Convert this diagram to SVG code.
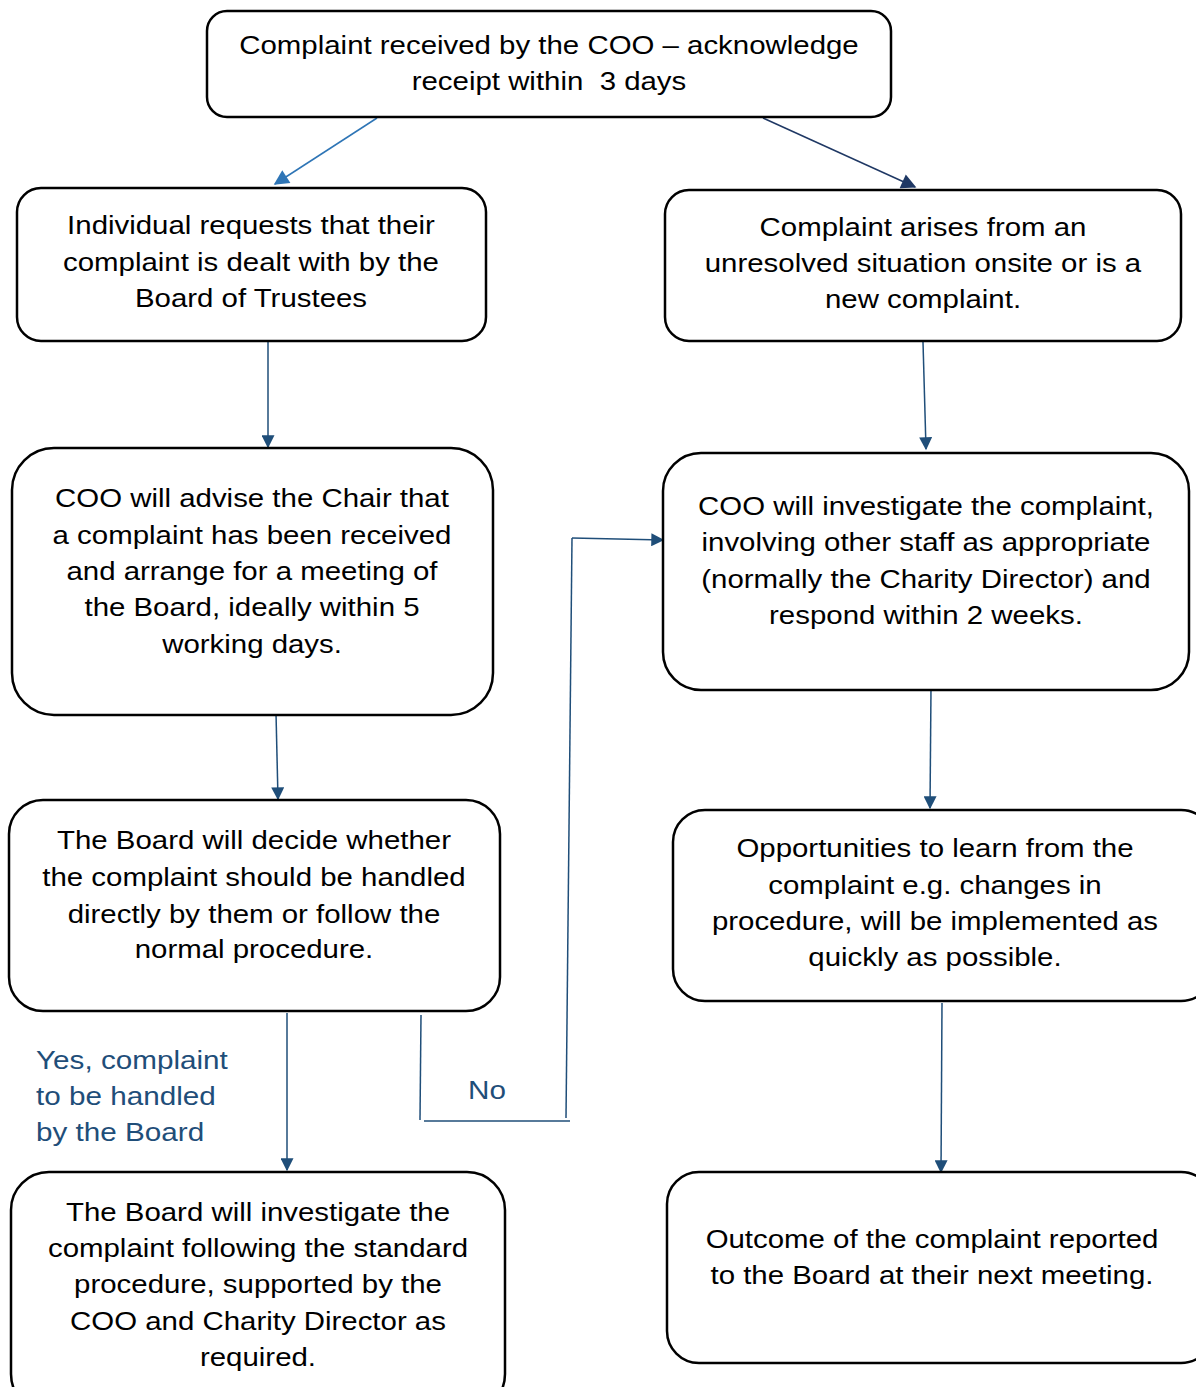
<svg xmlns="http://www.w3.org/2000/svg" width="1196" height="1387" viewBox="0 0 1196 1387">
<style>
.box{fill:#fff;stroke:#000;stroke-width:2.5}
.t{font-family:"Liberation Sans",Arial,sans-serif;font-size:26.5px;fill:#000;text-anchor:middle;transform-box:fill-box;transform-origin:center;transform:scaleX(1.11)}
.lbl{font-family:"Liberation Sans",Arial,sans-serif;font-size:26.5px;fill:#1F4E79;transform-box:fill-box;transform-origin:left center;transform:scaleX(1.12)}
.c{fill:none;stroke:#1F4E79;stroke-width:1.5}
.cl{fill:none;stroke:#2E75B6;stroke-width:1.5}
</style>
<defs>
<marker id="a" viewBox="0 0 10 10" refX="9" refY="5" markerWidth="14" markerHeight="13" markerUnits="userSpaceOnUse" orient="auto"><path d="M0,0 L10,5 L0,10 z" fill="#1F4E79"/></marker>
<marker id="al" viewBox="0 0 10 10" refX="9" refY="5" markerWidth="16" markerHeight="15" markerUnits="userSpaceOnUse" orient="auto"><path d="M0,0 L10,5 L0,10 z" fill="#2E75B6"/></marker>
<marker id="ad" viewBox="0 0 10 10" refX="9" refY="5" markerWidth="16" markerHeight="15" markerUnits="userSpaceOnUse" orient="auto"><path d="M0,0 L10,5 L0,10 z" fill="#1F3864"/></marker>
</defs>
<rect width="1196" height="1387" fill="#fff"/>
<g id="connectors">
<line class="cl" x1="377" y1="118" x2="275" y2="184" marker-end="url(#al)"/>
<line class="c" style="stroke:#1F3864" x1="763" y1="118" x2="915" y2="187" marker-end="url(#ad)"/>
<line class="c" x1="268" y1="342" x2="268" y2="447" marker-end="url(#a)"/>
<line class="c" x1="923" y1="342" x2="926" y2="449" marker-end="url(#a)"/>
<line class="c" x1="276" y1="713" x2="278" y2="799" marker-end="url(#a)"/>
<line class="c" x1="931" y1="688" x2="930" y2="808" marker-end="url(#a)"/>
<line class="c" x1="287" y1="1013" x2="287" y2="1170" marker-end="url(#a)"/>
<line class="c" x1="942" y1="1003" x2="941" y2="1172" marker-end="url(#a)"/>
<line class="c" x1="421" y1="1015" x2="420" y2="1120"/>
<line class="c" x1="424" y1="1121" x2="570" y2="1121"/>
<line class="c" x1="566" y1="1118" x2="572" y2="538"/>
<line class="c" x1="572" y1="538" x2="663" y2="540" marker-end="url(#a)"/>
</g>
<g id="n1"><rect class="box" x="207" y="11" width="684" height="106" rx="20"/>
<text class="t" x="549" y="54">Complaint received by the COO – acknowledge</text>
<text class="t" x="549" y="90" style="white-space:pre">receipt within  3 days</text></g>
<g id="n2"><rect class="box" x="17" y="188" width="469" height="153" rx="24"/>
<text class="t" x="251" y="234">Individual requests that their</text>
<text class="t" x="251" y="271">complaint is dealt with by the</text>
<text class="t" x="251" y="307">Board of Trustees</text></g>
<g id="n3"><rect class="box" x="665" y="190" width="516" height="151" rx="24"/>
<text class="t" x="923" y="236">Complaint arises from an</text>
<text class="t" x="923" y="272">unresolved situation onsite or is a</text>
<text class="t" x="923" y="308">new complaint.</text></g>
<g id="n4"><rect class="box" x="12" y="448" width="481" height="267" rx="42"/>
<text class="t" x="252" y="507">COO will advise the Chair that</text>
<text class="t" x="252" y="544">a complaint has been received</text>
<text class="t" x="252" y="580">and arrange for a meeting of</text>
<text class="t" x="252" y="616">the Board, ideally within 5</text>
<text class="t" x="252" y="653">working days.</text></g>
<g id="n5"><rect class="box" x="663" y="453" width="526" height="237" rx="38"/>
<text class="t" x="926" y="515">COO will investigate the complaint,</text>
<text class="t" x="926" y="551">involving other staff as appropriate</text>
<text class="t" x="926" y="588">(normally the Charity Director) and</text>
<text class="t" x="926" y="624">respond within 2 weeks.</text></g>
<g id="n6"><rect class="box" x="9" y="800" width="491" height="211" rx="34"/>
<text class="t" x="254" y="849">The Board will decide whether</text>
<text class="t" x="254" y="886">the complaint should be handled</text>
<text class="t" x="254" y="923">directly by them or follow the</text>
<text class="t" x="254" y="958">normal procedure.</text></g>
<g id="n7"><rect class="box" x="673" y="810" width="540" height="191" rx="32"/>
<text class="t" x="935" y="857">Opportunities to learn from the</text>
<text class="t" x="935" y="894">complaint e.g. changes in</text>
<text class="t" x="935" y="930">procedure, will be implemented as</text>
<text class="t" x="935" y="966">quickly as possible.</text></g>
<g id="n8"><rect class="box" x="11" y="1172" width="494" height="240" rx="38"/>
<text class="t" x="258" y="1221">The Board will investigate the</text>
<text class="t" x="258" y="1257">complaint following the standard</text>
<text class="t" x="258" y="1293">procedure, supported by the</text>
<text class="t" x="258" y="1330">COO and Charity Director as</text>
<text class="t" x="258" y="1366">required.</text></g>
<g id="n9"><rect class="box" x="667" y="1172" width="546" height="191" rx="32"/>
<text class="t" x="932" y="1248">Outcome of the complaint reported</text>
<text class="t" x="932" y="1284">to the Board at their next meeting.</text></g>
<g id="labels">
<text class="lbl" x="36" y="1069">Yes, complaint</text>
<text class="lbl" x="36" y="1105">to be handled</text>
<text class="lbl" x="36" y="1141">by the Board</text>
<text class="lbl" x="468" y="1099">No</text>
</g>
</svg>
